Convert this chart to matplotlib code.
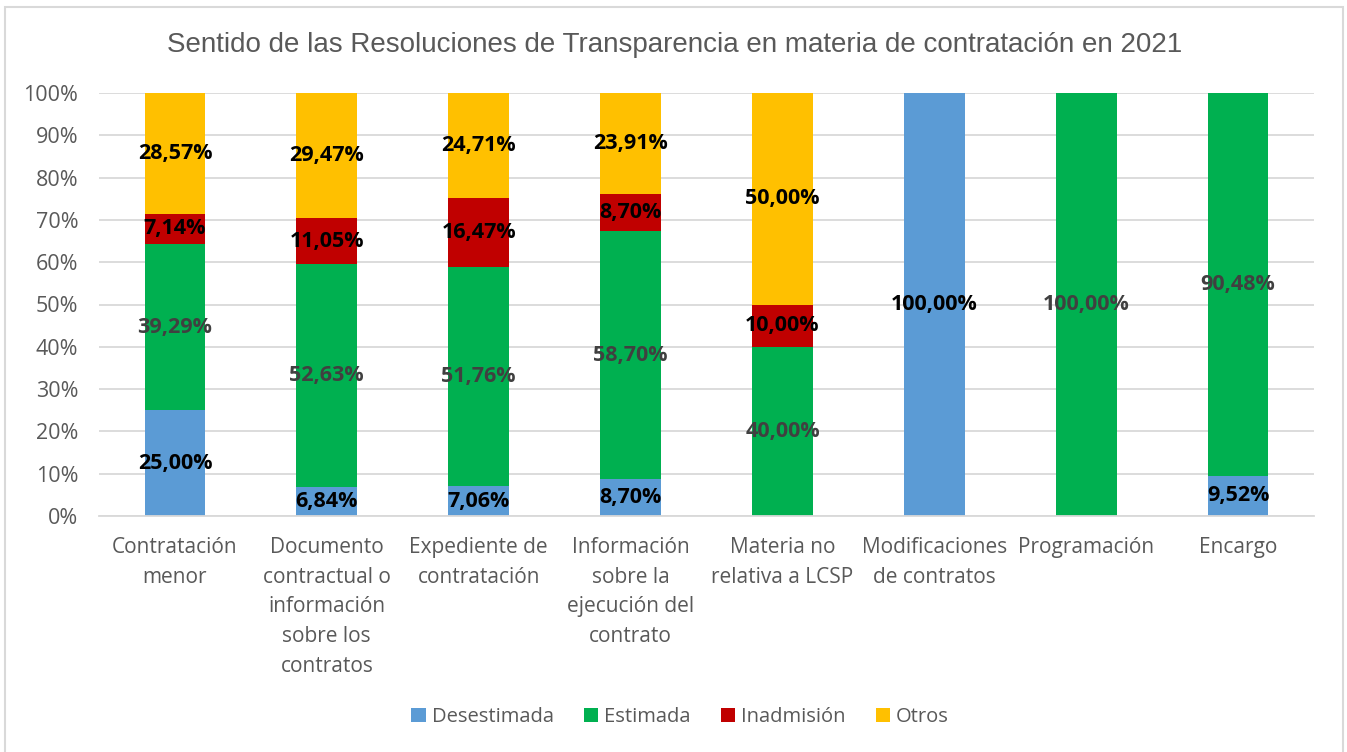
import matplotlib
matplotlib.use("Agg")
import matplotlib.pyplot as plt
from matplotlib.patches import Rectangle, Patch
import numpy as np

categories = ["Contratación\nmenor",
              "Documento\ncontractual o\ninformación\nsobre los\ncontratos",
              "Expediente de\ncontratación",
              "Información\nsobre la\nejecución del\ncontrato",
              "Materia no\nrelativa a LCSP",
              "Modificaciones\nde contratos",
              "Programación",
              "Encargo"]
series_names = ["Desestimada", "Estimada", "Inadmisión", "Otros"]
desestimada = [25.00, 6.84, 7.06, 8.70, 0, 100.00, 0, 9.52]
estimada = [39.29, 52.63, 51.76, 58.70, 40.00, 0, 100.00, 90.48]
inadmision = [7.14, 11.05, 16.47, 8.70, 10.00, 0, 0, 0]
otros = [28.57, 29.47, 24.71, 23.91, 50.00, 0, 0, 0]
yticks = [0, 10, 20, 30, 40, 50, 60, 70, 80, 90, 100]
title = "Sentido de las Resoluciones de Transparencia en materia de contratación en 2021"

colors = ["#5B9BD5", "#00B050", "#C00000", "#FFC000"]
label_colors = ["#000000", "#404040", "#000000", "#000000"]

W, H = 1347, 752
fig = plt.figure(figsize=(W / 100, H / 100), dpi=100)
fig.patch.set_facecolor("white")

# outer chart border
fig.add_artist(Rectangle((5 / W, -0.01), (1343 - 5) / W, 1 - 7 / H + 0.01,
                         transform=fig.transFigure, fill=False,
                         edgecolor="#D9D9D9", linewidth=1.5))

ax = fig.add_axes([99 / W, (H - 516) / H, 1215 / W, 423 / H])
x = np.arange(len(categories))
data = [desestimada, estimada, inadmision, otros]
bottom = np.zeros(len(categories))
for vals, name, col, lcol in zip(data, series_names, colors, label_colors):
    vals = np.array(vals, dtype=float)
    ax.bar(x, vals, width=0.4, bottom=bottom, color=col, label=name, zorder=2)
    for xi, v, b in zip(x, vals, bottom):
        if v > 0:
            ax.text(xi, b + v / 2, f"{v:.2f}%".replace(".", ","),
                    ha="center", va="center", fontsize=15.5, fontweight="bold",
                    color=lcol, family="Open Sans", zorder=3)
    bottom += vals

ax.set_xlim(-0.5, len(categories) - 0.5)
ax.set_ylim(0, 100)
ax.set_yticks(yticks)
ax.set_yticklabels([f"{t}%" for t in yticks], family="Open Sans", fontsize=15.5,
                   color="#595959")
ax.set_xticks(x)
ax.set_xticklabels(categories, family="Open Sans", fontsize=15, color="#595959",
                   linespacing=1.55, va="top")
ax.tick_params(axis="both", length=0)
ax.tick_params(axis="x", pad=15)
ax.tick_params(axis="y", pad=15)
ax.yaxis.grid(True, color="#D9D9D9", linewidth=1.3, zorder=0)
ax.set_axisbelow(True)
for s in ["top", "right", "left"]:
    ax.spines[s].set_visible(False)
ax.spines["bottom"].set_color("#D9D9D9")
ax.spines["bottom"].set_linewidth(1.3)

fig.text(675 / W, 1 - 45 / H, title, ha="center", va="center",
         fontsize=20, color="#595959", family="Liberation Sans")

handles = [Patch(facecolor=c, label=n) for c, n in zip(colors, series_names)]
fig.legend(handles=handles, loc="center", bbox_to_anchor=(680 / W, 1 - 717 / H),
           ncol=4, frameon=False, handlelength=0.7, handleheight=0.7,
           handletextpad=0.3, columnspacing=1.5,
           prop={"family": "Open Sans", "size": 14.5}, labelcolor="#595959")

fig.savefig("out.png", dpi=100)
